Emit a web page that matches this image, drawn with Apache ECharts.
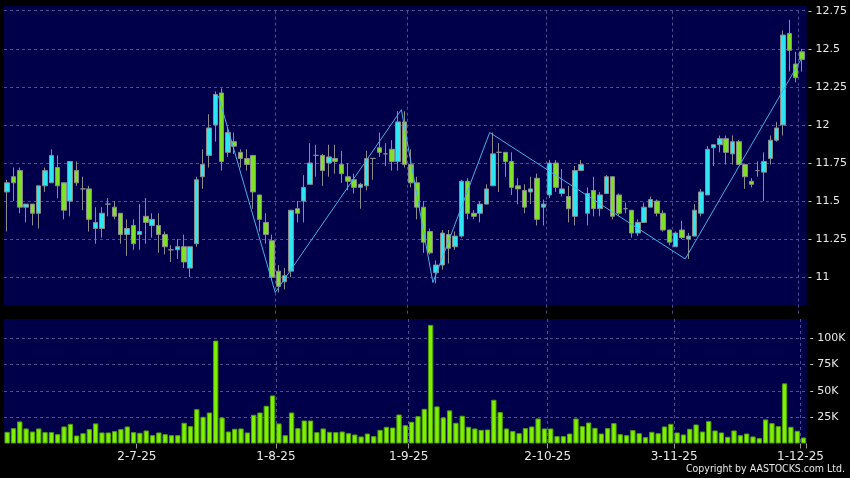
<!DOCTYPE html>
<html><head><meta charset="utf-8">
<script src="https://cdn.jsdelivr.net/npm/echarts@6/dist/echarts.min.js"></script>
<style>html,body{margin:0;padding:0;background:#000;}#c{width:850px;height:478px;}</style>
</head><body><div id="c"></div>
<script>
// Trading dates (d-m-yy)
const categories = [
'2-6-25','3-6-25','4-6-25','5-6-25','6-6-25','9-6-25','10-6-25','11-6-25','12-6-25','13-6-25','16-6-25','17-6-25','18-6-25','19-6-25','20-6-25','23-6-25','24-6-25','25-6-25','26-6-25','27-6-25','30-6-25',
'2-7-25','3-7-25','4-7-25','7-7-25','8-7-25','9-7-25','10-7-25','11-7-25','14-7-25','15-7-25','16-7-25','17-7-25','18-7-25','21-7-25','22-7-25','23-7-25','24-7-25','25-7-25','28-7-25','29-7-25','30-7-25','31-7-25',
'1-8-25','4-8-25','5-8-25','6-8-25','7-8-25','8-8-25','11-8-25','12-8-25','13-8-25','14-8-25','15-8-25','18-8-25','19-8-25','20-8-25','21-8-25','22-8-25','25-8-25','26-8-25','27-8-25','28-8-25','29-8-25',
'1-9-25','2-9-25','3-9-25','4-9-25','5-9-25','8-9-25','9-9-25','10-9-25','11-9-25','12-9-25','15-9-25','16-9-25','17-9-25','18-9-25','19-9-25','22-9-25','23-9-25','24-9-25','25-9-25','26-9-25','29-9-25','30-9-25',
'2-10-25','3-10-25','6-10-25','8-10-25','9-10-25','10-10-25','13-10-25','14-10-25','15-10-25','16-10-25','17-10-25','20-10-25','21-10-25','22-10-25','23-10-25','24-10-25','27-10-25','28-10-25','30-10-25','31-10-25',
'3-11-25','4-11-25','5-11-25','6-11-25','7-11-25','10-11-25','11-11-25','12-11-25','13-11-25','14-11-25','17-11-25','18-11-25','19-11-25','20-11-25','21-11-25','24-11-25','25-11-25','26-11-25','27-11-25','28-11-25',
'1-12-25'
];
// [open, close, low, high]
const ohlc = [
[11.56,11.62,11.30,11.64],[11.66,11.62,11.50,11.72],[11.70,11.46,11.42,11.72],[11.46,11.48,11.36,11.48],[11.48,11.42,11.34,11.48],
[11.42,11.60,11.32,11.60],[11.60,11.70,11.56,11.72],[11.62,11.80,11.62,11.84],[11.72,11.60,11.52,11.80],[11.62,11.44,11.38,11.62],
[11.50,11.76,11.40,11.76],[11.70,11.62,11.60,11.76],[11.58,11.58,11.44,11.66],[11.58,11.38,11.30,11.60],[11.32,11.36,11.22,11.46],
[11.32,11.42,11.26,11.46],[11.48,11.48,11.40,11.52],[11.46,11.40,11.38,11.50],[11.42,11.28,11.22,11.42],[11.28,11.32,11.14,11.38],
[11.34,11.22,11.18,11.38],[11.28,11.30,11.18,11.48],[11.40,11.36,11.22,11.52],[11.34,11.38,11.26,11.42],[11.34,11.28,11.16,11.42],
[11.28,11.20,11.15,11.30],[11.18,11.18,11.10,11.21],[11.18,11.20,11.12,11.25],[11.20,11.10,11.06,11.28],[11.06,11.20,11.00,11.20],
[11.22,11.64,11.20,11.66],[11.66,11.74,11.58,11.84],[11.80,11.98,11.72,12.07],[12.00,12.20,11.89,12.22],[12.21,11.76,11.70,12.24],
[11.82,11.95,11.79,11.98],[11.89,11.86,11.81,11.95],[11.82,11.78,11.72,11.84],[11.78,11.74,11.70,11.84],[11.80,11.56,11.45,11.80],
[11.54,11.38,11.30,11.54],[11.36,11.28,11.22,11.42],[11.24,11.00,10.99,11.28],[11.04,10.94,10.90,11.08],[10.97,11.01,10.92,11.06],
[11.04,11.44,11.00,11.44],[11.45,11.42,11.36,11.50],[11.50,11.59,11.36,11.67],[11.61,11.75,11.61,11.88],[11.80,11.80,11.66,11.87],
[11.80,11.70,11.60,11.81],[11.75,11.79,11.66,11.87],[11.78,11.76,11.68,11.87],[11.74,11.68,11.62,11.83],[11.66,11.63,11.57,11.75],
[11.64,11.59,11.55,11.68],[11.59,11.61,11.45,11.62],[11.60,11.78,11.57,11.83],[11.78,11.78,11.64,11.78],[11.85,11.82,11.79,11.95],
[11.81,11.81,11.73,11.88],[11.84,11.76,11.70,11.90],[11.76,12.02,11.70,12.09],[12.02,11.74,11.72,12.09],[11.74,11.62,11.59,11.84],
[11.62,11.46,11.38,11.66],[11.46,11.23,11.16,11.50],[11.30,11.16,11.15,11.32],[11.03,11.08,10.96,11.11],[11.08,11.29,11.05,11.31],
[11.28,11.19,11.09,11.31],[11.20,11.27,11.18,11.30],[11.27,11.63,11.26,11.64],[11.63,11.42,11.38,11.65],[11.42,11.40,11.38,11.44],
[11.42,11.48,11.36,11.50],[11.48,11.58,11.48,11.61],[11.60,11.81,11.60,11.95],[11.82,11.82,11.56,11.88],[11.82,11.76,11.66,11.82],
[11.76,11.59,11.54,11.82],[11.60,11.58,11.48,11.65],[11.57,11.46,11.42,11.61],[11.56,11.58,11.48,11.66],[11.65,11.38,11.34,11.68],
[11.46,11.48,11.34,11.51],[11.54,11.75,11.52,11.77],[11.75,11.59,11.56,11.77],[11.55,11.58,11.53,11.71],[11.53,11.45,11.36,11.60],
[11.40,11.70,11.34,11.73],[11.70,11.74,11.70,11.77],[11.42,11.55,11.34,11.59],[11.57,11.45,11.40,11.66],[11.45,11.54,11.40,11.56],
[11.55,11.66,11.55,11.67],[11.66,11.40,11.38,11.66],[11.54,11.42,11.40,11.55],[11.45,11.45,11.42,11.49],[11.44,11.29,11.26,11.44],
[11.29,11.36,11.27,11.38],[11.36,11.46,11.36,11.49],[11.46,11.51,11.46,11.53],[11.50,11.42,11.40,11.51],[11.42,11.31,11.30,11.44],
[11.31,11.23,11.21,11.31],[11.20,11.29,11.20,11.30],[11.31,11.26,11.25,11.37],[11.25,11.27,11.12,11.29],[11.27,11.44,11.27,11.48],
[11.42,11.56,11.40,11.58],[11.54,11.84,11.54,11.86],[11.85,11.87,11.73,11.87],[11.87,11.91,11.82,11.93],[11.91,11.82,11.74,11.93],
[11.81,11.89,11.74,11.93],[11.89,11.74,11.74,11.90],[11.74,11.66,11.58,11.74],[11.63,11.61,11.59,11.65],[11.70,11.70,11.66,11.76],
[11.69,11.76,11.50,11.82],[11.78,11.90,11.74,11.93],[11.90,11.98,11.89,12.02],[12.00,12.59,11.93,12.62],[12.60,12.49,12.35,12.69],
[12.40,12.31,12.28,12.48],[12.48,12.43,12.35,12.50]
];
const volumes = [
11100,14600,21000,14300,11400,14300,10800,10800,8900,16200,
18700,7600,9800,13700,19100,10500,10500,11800,13700,16200,
10800,10200,12400,7900,10500,8900,7900,7900,19700,16500,
32700,25400,29500,97900,24800,11400,14000,14300,10500,27300,
29500,35900,45700,19100,7900,29500,14600,21900,21900,10800,
14300,11100,10800,11400,9800,8600,6700,9500,7000,13000,
15900,15200,27600,17500,20700,26000,33000,112800,35300,24800,
31500,19700,26400,15900,14300,13000,13300,41600,29900,14300,
11800,9800,14600,16200,23800,14300,14300,7000,7000,9500,
23800,16500,20000,14900,9500,14600,19400,8900,7900,12700,
9800,6000,11100,9800,16200,18700,10500,8600,14000,18100,
11400,21300,12400,10500,6400,12400,7900,9500,6700,5100,
22900,19400,16500,57200,15900,12100,5700
];
// zigzag turning points [position on date scale, price]
const zigzag = [[33.5,12.19],[42.5,10.90],[62.5,12.10],[67.5,10.965],[76.5,11.95],[107.5,11.12],[126,12.44]];
const priceTicks = [11,11.25,11.5,11.75,12,12.25,12.5,12.75];
const volumeTicks = [25000,50000,75000,100000];
const copyright = 'Copyright by AASTOCKS.com Ltd.';

const monthStart = i => i > 0 && i < categories.length && categories[i].split('-')[1] !== categories[i-1].split('-')[1];
const NAVY = '#00004a', GRIDC = '#4e4e8e', TXT = '#e8e8e8';
const FONT = 'DejaVu Sans';
const chart = echarts.init(document.getElementById('c'), null, {renderer:'canvas'});
const L = 4, R = 850 - 806.7;
chart.setOption({
  backgroundColor: '#000',
  animation: false,
  graphic: [
    {type:'rect', z:-100, silent:true, shape:{x:L, y:5.7, width:806.7-L, height:305-5.7}, style:{fill:NAVY}},
    {type:'text', z:10, right: 5, top: 464, style:{text: copyright, fill: TXT, font: '10.5px "DejaVu Sans Condensed", "DejaVu Sans"'}}
  ],
  grid: [
    {left:L, right:R, top:10.7, height:304.6, show:false},
    {left:L, right:R, top:319, height:124.5, show:true, backgroundColor:NAVY, borderWidth:0}
  ],
  xAxis: [
    {type:'category', gridIndex:0, data:categories, boundaryGap:true,
     axisLine:{show:false}, axisTick:{show:false}, axisLabel:{show:false},
     splitLine:{show:true, showMinLine:false, showMaxLine:false, interval:(i)=>monthStart(i), lineStyle:{color:GRIDC, type:[3,3], width:1}}},
    {type:'value', gridIndex:0, min:-0.5, max:categories.length-0.5, show:false},
    {type:'category', gridIndex:1, data:categories, boundaryGap:true,
     axisLine:{show:false},
     axisTick:{show:true, interval:(i)=>monthStart(i), length:5, lineStyle:{color:'#9a9a9a'}},
     axisLabel:{show:true, interval:(i)=>monthStart(i), color:TXT, fontFamily:FONT, fontSize:12, margin:7, padding:[0,6,0,0]},
     splitLine:{show:true, showMinLine:false, showMaxLine:false, interval:(i)=>monthStart(i), lineStyle:{color:GRIDC, type:[3,3], width:1}}}
  ],
  yAxis: [
    {type:'value', gridIndex:0, position:'right', min:10.75, max:12.75, interval:0.25,
     axisLine:{show:false}, axisTick:{show:false},
     axisLabel:{color:TXT, fontFamily:FONT, fontSize:11, margin:3,
       formatter:(v)=> priceTicks.some(t=>Math.abs(t-v)<1e-6) ? '- ' + (+v.toFixed(2)) : ''},
     splitLine:{show:true, showMinLine:false, lineStyle:{color:GRIDC, type:[3,3], width:1}}},
    {type:'value', gridIndex:1, position:'right', min:0, max:118400, interval:25000,
     axisLine:{show:false}, axisTick:{show:false},
     axisLabel:{color:TXT, fontFamily:FONT, fontSize:11, margin:3,
       formatter:(v)=> volumeTicks.includes(v) ? '- ' + (v/1000) + 'K' : ''},
     splitLine:{show:true, showMinLine:false, showMaxLine:false, lineStyle:{color:GRIDC, type:[3,3], width:1}}}
  ],
  series: [
    {type:'candlestick', xAxisIndex:0, yAxisIndex:0, data:ohlc, barWidth:5,
     itemStyle:{color:'#2ee6f2', color0:'#7fe02a', borderColor:'#8c8c8c', borderColor0:'#8c8c8c', borderWidth:1}},
    {type:'line', xAxisIndex:1, yAxisIndex:0, data:zigzag, symbol:'none', z:5,
     lineStyle:{color:'#4aaee8', width:1}},
    {type:'bar', xAxisIndex:2, yAxisIndex:1, data:volumes, barWidth:'84%',
     itemStyle:{color:'#7ff000', borderColor:'#4f9e0c', borderWidth:1}}
  ]
});
</script></body></html>
